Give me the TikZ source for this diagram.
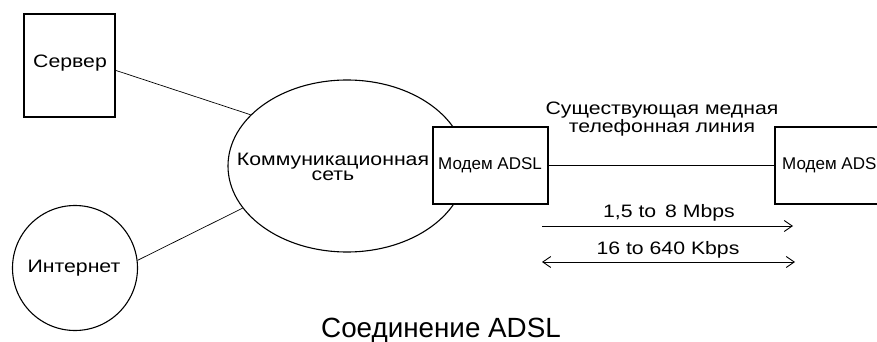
\documentclass[tikz,border=0pt]{standalone}
\usepackage{fontspec}
\setmainfont{Liberation Sans}
\newfontfamily\widefont[FakeStretch=1.18]{Liberation Sans}
\usetikzlibrary{shapes.geometric,arrows.meta}
\begin{document}
\begin{tikzpicture}[x=1pt,y=-1pt,
  shp/.style={draw, line width=1.1pt, fill=white, inner sep=0pt},
  conn/.style={line width=0.7pt},
  arr/.style={line width=0.9pt},
  lbl/.style={inner sep=0pt, align=center, font=\widefont\fontsize{18}{15}\selectfont},
  mlbl/.style={inner sep=0pt, font=\fontsize{17}{15}\selectfont}]
\useasboundingbox (0,0) rectangle (877,342);
\node[shp, minimum width=91pt, minimum height=103pt] (srv) at (69.5,65.5) {};
\node[lbl, anchor=west] (srvt) at (33,63) {Сервер};
\node[shp, circle, minimum size=125pt] (inet) at (75,268) {};
\node[lbl] (inett) at (74,268) {Интернет};
\node[shp, ellipse, minimum width=238pt, minimum height=172pt] (net) at (347,166) {};
\node[lbl] (nett) at (333,167) {Коммуникационная\\сеть};
\node[shp, minimum width=115pt, minimum height=77pt] (m1) at (490.5,165.5) {};
\node[mlbl, anchor=west] (m1t) at (438,165) {Модем ADSL};
\node[shp, minimum width=115pt, minimum height=77pt] (m2) at (832.5,165.5) {};
\node[mlbl, anchor=west] (m2t) at (782,165) {Модем ADSL};
\draw[conn] (srv.-6) -- (net.152);
\draw[conn] (inet.7) -- (net.202);
\draw[conn] (m1.east) -- (m2.west);
\node[lbl] (line) at (662,119) {Существующая медная\\телефонная линия};
\coordinate (a1s) at (542,226);
\coordinate (a1e) at (793,226);
\coordinate (a2s) at (542,262);
\coordinate (a2e) at (795,262);
\draw[arr, -{Straight Barb[length=8pt,width=11pt]}] (a1s) -- (a1e);
\draw[arr, {Straight Barb[length=8pt,width=11pt]}-{Straight Barb[length=8pt,width=11pt]}] (a2s) -- (a2e);
\node[lbl] (r1) at (669,213) {1,5 to \,8 Mbps};
\node[lbl] (r2) at (668,250) {16 to 640 Kbps};
\node[inner sep=0pt, font=\fontsize{27.8}{27}\selectfont] (title) at (441,331) {Соединение ADSL};
\end{tikzpicture}
\end{document}
